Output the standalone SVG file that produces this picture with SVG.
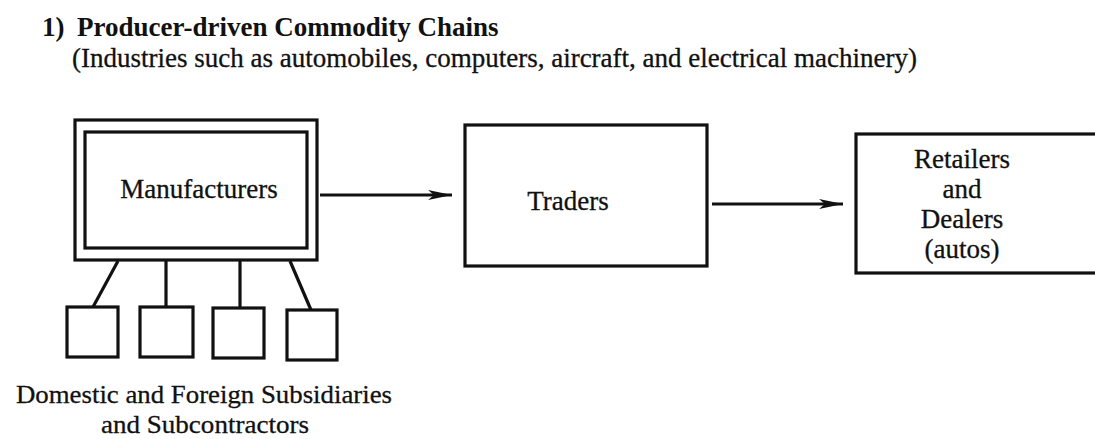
<svg xmlns="http://www.w3.org/2000/svg" width="1095" height="439" viewBox="0 0 1095 439">
<defs>
<style>
.box{fill:none;stroke:#111;stroke-width:3.2}
.ln{fill:none;stroke:#111;stroke-width:3.2}
.t{font-family:"Liberation Serif","Times New Roman",serif;font-size:27px;fill:#111;text-anchor:middle;stroke:#111;stroke-width:0.3}
.t2{font-family:"Liberation Serif","Times New Roman",serif;font-size:26px;fill:#111;text-anchor:middle;stroke:#111;stroke-width:0.3}
.title{font-family:"Liberation Serif","Times New Roman",serif;font-size:27px;font-weight:bold;fill:#111}
.sub{font-family:"Liberation Serif","Times New Roman",serif;font-size:27px;fill:#111;stroke:#111;stroke-width:0.3}
</style>
<marker id="ah" viewBox="0 0 24 12" refX="24" refY="6" markerWidth="24" markerHeight="12" markerUnits="userSpaceOnUse" orient="auto">
<path d="M0,1 L24,6 L0,11 L6,6 Z" fill="#111"/>
</marker>
</defs>
<rect width="1095" height="439" fill="#fff"/>
<g id="title">
<text class="title" x="42" y="36">1)</text>
<text class="title" x="77" y="36">Producer-driven Commodity Chains</text>
<text class="sub" x="72" y="67">(Industries such as automobiles, computers, aircraft, and electrical machinery)</text>
</g>
<g id="manufacturers">
<rect class="box" x="75" y="120" width="242" height="140"/>
<rect class="box" x="85" y="132" width="222" height="116"/>
<text class="t" x="199" y="198">Manufacturers</text>
</g>
<g id="traders">
<rect class="box" x="465" y="125" width="242" height="141"/>
<text class="t" x="568" y="210">Traders</text>
</g>
<g id="retailers">
<rect class="box" x="856" y="134" width="250" height="139"/>
<text class="t" x="962" y="168">Retailers</text>
<text class="t" x="962" y="198">and</text>
<text class="t" x="962" y="228">Dealers</text>
<text class="t" x="962" y="258">(autos)</text>
</g>
<g id="sub1"><rect class="box" x="67" y="307" width="51" height="50"/></g>
<g id="sub2"><rect class="box" x="140" y="307" width="53" height="50"/></g>
<g id="sub3"><rect class="box" x="213" y="308" width="51" height="50"/></g>
<g id="sub4"><rect class="box" x="287" y="310" width="50" height="50"/></g>
<g id="subsidiaries-label">
<text class="t2" x="204" y="403" textLength="376" lengthAdjust="spacingAndGlyphs">Domestic and Foreign Subsidiaries</text>
<text class="t2" x="205" y="433" textLength="208" lengthAdjust="spacingAndGlyphs">and Subcontractors</text>
</g>
<g id="connectors">
<line class="ln" x1="320" y1="195" x2="452" y2="195" marker-end="url(#ah)"/>
<line class="ln" x1="712" y1="204" x2="843" y2="204" marker-end="url(#ah)"/>
<line class="ln" x1="118" y1="261" x2="93" y2="307"/>
<line class="ln" x1="166" y1="261" x2="166" y2="307"/>
<line class="ln" x1="240" y1="261" x2="240" y2="308"/>
<line class="ln" x1="290" y1="261" x2="311" y2="310"/>
</g>
</svg>
